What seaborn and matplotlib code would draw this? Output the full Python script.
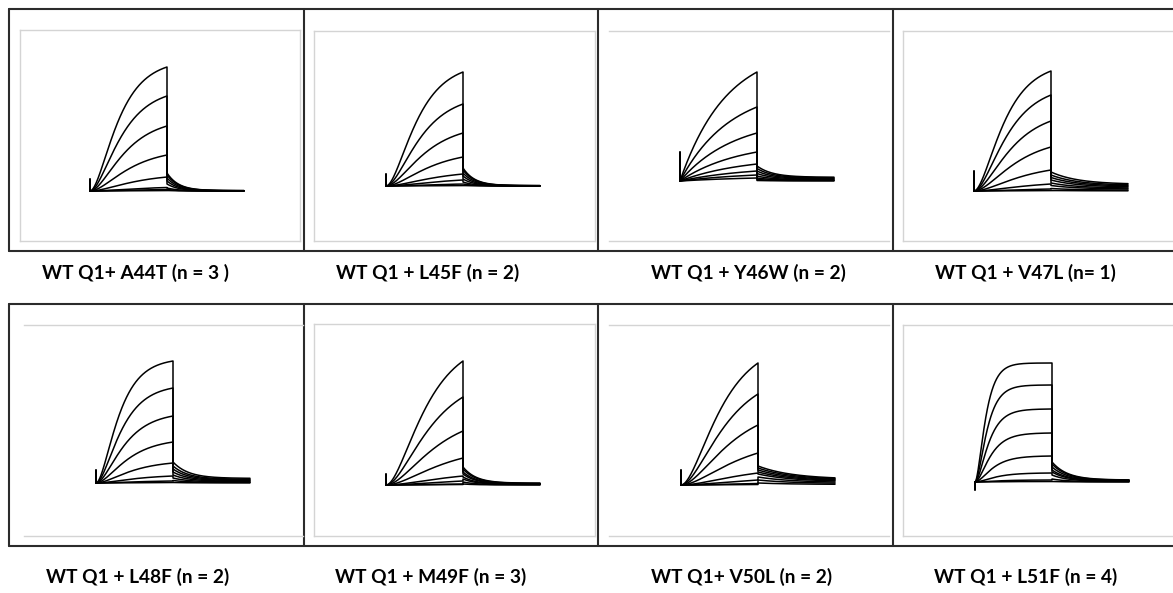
import numpy as np
import pandas as pd
import seaborn as sns
import matplotlib.pyplot as plt

sns.set_theme(style="white")
plt.rcParams["font.family"] = ["Lato", "DejaVu Sans"]

# Panel titles (row by row)
labels = ["WT Q1+ A44T (n = 3 )", "WT Q1 + L45F (n = 2)", "WT Q1 + Y46W (n = 2)", "WT Q1 + V47L (n= 1)",
          "WT Q1 + L48F (n = 2)", "WT Q1 + M49F (n = 3)", "WT Q1+ V50L (n = 2)", "WT Q1 + L51F (n = 4)"]

# Current at the end of the 2 s pulse, one value per sweep (uA)
amp_A44T = [2.48, 1.90, 1.30, 0.72, 0.28, 0.07, 0.03, 0.01]
amp_L45F = [2.28, 1.64, 1.06, 0.58, 0.24, 0.12, 0.04, 0.01]
amp_Y46W = [2.18, 1.48, 0.96, 0.58, 0.34, 0.20, 0.12, 0.06]
amp_V47L = [2.40, 1.92, 1.40, 0.88, 0.42, 0.14, 0.04, 0.01]
amp_L48F = [2.44, 1.90, 1.34, 0.82, 0.40, 0.14, 0.04, 0.01]
amp_M49F = [2.48, 1.76, 1.08, 0.54, 0.18, 0.08, 0.02, 0.01]
amp_V50L = [2.44, 1.82, 1.20, 0.64, 0.24, 0.10, 0.03, 0.01]
amp_L51F = [2.38, 1.94, 1.46, 0.98, 0.52, 0.18, 0.04, 0.01]

# Peak tail current per sweep (uA)
tail_A44T = [0.36, 0.32, 0.26, 0.20, 0.14, 0.06, 0.03, 0.01]
tail_L45F = [0.36, 0.32, 0.26, 0.20, 0.14, 0.08, 0.04, 0.01]
tail_Y46W = [0.30, 0.25, 0.20, 0.15, 0.10, 0.06, 0.03, 0.01]
tail_V47L = [0.38, 0.32, 0.27, 0.22, 0.16, 0.11, 0.05, 0.01]
tail_L48F = [0.42, 0.34, 0.28, 0.22, 0.16, 0.10, 0.05, 0.01]
tail_M49F = [0.36, 0.32, 0.26, 0.22, 0.16, 0.12, 0.06, 0.02]
tail_V50L = [0.38, 0.34, 0.30, 0.26, 0.22, 0.16, 0.10, 0.04]
tail_L51F = [0.40, 0.36, 0.30, 0.24, 0.20, 0.14, 0.06, 0.01]

amps = [amp_A44T, amp_L45F, amp_Y46W, amp_V47L, amp_L48F, amp_M49F, amp_V50L, amp_L51F]
tails = [tail_A44T, tail_L45F, tail_Y46W, tail_V47L, tail_L48F, tail_M49F, tail_V50L, tail_L51F]

# kinetics read from the shapes
act_tau = [560, 620, 1200, 600, 450, 800, 800, 210]      # ms, largest sweep
act_ratio = [1.12, 1.12, 1.08, 1.12, 1.12, 1.12, 1.12, 1.14]
act_power = [2, 2, 1, 2, 2, 2, 2, 2]
tail_tau = [300, 300, 400, 700, 400, 340, 900, 400]      # ms
tail_rest = [0.02, 0.02, 0.25, 0.35, 0.22, 0.10, 0.30, 0.10]
spike = [0.24, 0.24, 0.58, 0.40, 0.26, 0.22, 0.30, -0.16]

pulse_ms = 2000
tail_ms = 2000

W, H = 1173, 593
fig = plt.figure(figsize=(W / 100, H / 100), dpi=100)

# outer boxes
bg = fig.add_axes([0, 0, 1, 1])
bg.set_xlim(0, W)
bg.set_ylim(H, 0)
bg.axis("off")
for top, bot in [(9, 251), (304, 546)]:
    bg.plot([9, W], [top, top], color="#2b2b2b", lw=1.5)
    bg.plot([9, W], [bot, bot], color="#2b2b2b", lw=1.5)
    for xv in [9, 304, 598, 893]:
        bg.plot([xv, xv], [top, bot], color="#2b2b2b", lw=1.5)

# inner frame (l, t, r, b) and trace origin (x0, baseline) in pixels
frames = [(20, 30, 300, 241), (314, 31, 595, 241), (609, 31, 889, 241), (903, 31, 1185, 241),
          (24, 325, 303, 536), (314, 324, 595, 536), (609, 325, 889, 536), (903, 325, 1185, 536)]
origins = [(90, 191), (386, 186), (680, 181), (974, 191),
           (96, 483), (386, 485), (681, 485), (975, 482)]
side_frames = [True, True, False, True, False, True, False, True]
label_pos = [(136, 273), (428, 273), (748, 273), (1025, 273),
             (138, 577), (431, 577), (742, 577), (1026, 577)]

ppms = 77 / pulse_ms   # px per ms
ppu = 50               # px per uA

t_act = np.linspace(0, pulse_ms, 200)
t_tail = np.linspace(pulse_ms, pulse_ms + tail_ms, 200)

for k in range(8):
    rows = []
    for i, (a, tp) in enumerate(zip(amps[k], tails[k])):
        tau = act_tau[k] * act_ratio[k] ** i
        n = act_power[k]
        f = (1 - np.exp(-t_act / tau)) ** n
        f = f / f[-1]
        i_act = a * f
        rest = tp * tail_rest[k]
        i_tail = rest + (tp - rest) * np.exp(-(t_tail - pulse_ms) / tail_tau[k])
        t = np.concatenate([[0, 0, 0], t_act, t_tail])
        cur = np.concatenate([[0, spike[k] if i == 0 else 0, 0], i_act, i_tail])
        rows.append(pd.DataFrame({"t": t, "I": cur, "sweep": i}))
    df = pd.concat(rows, ignore_index=True)

    l, t0, r, b = frames[k]
    x0, yb = origins[k]
    ax = fig.add_axes([l / W, 1 - b / H, (r - l) / W, (b - t0) / H])
    ax.set_facecolor("none")
    sns.lineplot(data=df, x="t", y="I", units="sweep", estimator=None, sort=False,
                 color="black", lw=1.1, ax=ax, legend=False)
    ax.set_xlim((l - x0) / ppms, (r - x0) / ppms)
    ax.set_ylim((yb - b) / ppu, (yb - t0) / ppu)
    ax.set_xticks([])
    ax.set_yticks([])
    ax.set_xlabel("")
    ax.set_ylabel("")
    for name, sp in ax.spines.items():
        sp.set_color("#d4d4d4")
        sp.set_linewidth(1.0)
        if name in ("left", "right") and not side_frames[k]:
            sp.set_visible(False)

    lx, ly = label_pos[k]
    fig.text(lx / W, 1 - ly / H, labels[k], ha="center", va="center",
             fontsize=13.8, fontweight="bold", color="black")

fig.savefig("out.png", dpi=100, facecolor="white")
